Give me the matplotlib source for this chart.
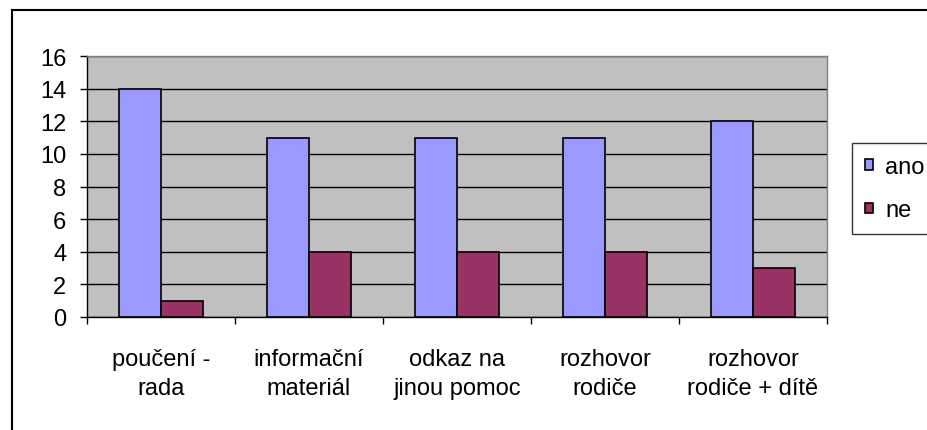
import matplotlib
matplotlib.use("Agg")
import matplotlib.pyplot as plt
from matplotlib.lines import Line2D
import numpy as np

categories = ["poučení -\nrada", "informační\nmateriál", "odkaz na\njinou pomoc",
              "rozhovor\nrodiče", "rozhovor\nrodiče + dítě"]
ano = [14, 11, 11, 11, 12]
ne = [1, 4, 4, 4, 3]
yticks = [0, 2, 4, 6, 8, 10, 12, 14, 16]

plt.rcParams['font.family'] = ['Liberation Sans', 'DejaVu Sans']
FS = 17

W, H = 927, 431
fig = plt.figure(figsize=(W / 100, H / 100), dpi=100)
ax = fig.add_axes([87 / W, (H - 318) / H, 740 / W, 261 / H])
ax.set_facecolor('#C0C0C0')

x = np.arange(len(categories))
bw = 1 / 3.5
ax.bar(x - bw / 2, ano, bw, color='#9999FF', edgecolor='black', linewidth=1.2, label='ano', zorder=3)
ax.bar(x + bw / 2, ne, bw, color='#993366', edgecolor='black', linewidth=1.2, label='ne', zorder=3)

ax.set_xlim(-0.5, len(categories) - 0.5)
ax.set_ylim(0, 16)
ax.set_yticks(yticks)
ax.set_yticklabels([str(v) for v in yticks], fontsize=FS)
ax.yaxis.grid(True, color='black', linewidth=1.0, zorder=1)
ax.set_axisbelow(True)

ax.set_xticks(x)
ax.set_xticklabels(categories, fontsize=FS, linespacing=1.45)
ax.tick_params(axis='x', which='major', length=0, pad=22)
ax.set_xticks(np.arange(-0.5, len(categories)), minor=True)
ax.tick_params(axis='x', which='minor', length=5, width=1, direction='out')
ax.tick_params(axis='y', length=5, width=1, direction='out', pad=10)

for s in ['left', 'bottom']:
    ax.spines[s].set_color('black')
    ax.spines[s].set_linewidth(1)
for s in ['top', 'right']:
    ax.spines[s].set_color('#808080')
    ax.spines[s].set_linewidth(1)

leg = fig.legend(loc='upper left', bbox_to_anchor=(852 / W, 1 - 144 / H),
                 fontsize=FS, frameon=True, fancybox=False, shadow=False,
                 handlelength=0.35, handleheight=0.3, handletextpad=0.5,
                 borderpad=0.55, labelspacing=0.9, borderaxespad=0)
leg.get_frame().set_edgecolor('black')
leg.get_frame().set_linewidth(1)

# outer chart border (left and top)
fig.add_artist(Line2D([12 / W, 12 / W], [0, 1 - 11 / H], transform=fig.transFigure,
                      color='black', linewidth=1.5))
fig.add_artist(Line2D([12 / W, 1], [1 - 11 / H, 1 - 11 / H], transform=fig.transFigure,
                      color='black', linewidth=1.5))

fig.savefig('out.png', dpi=100)
